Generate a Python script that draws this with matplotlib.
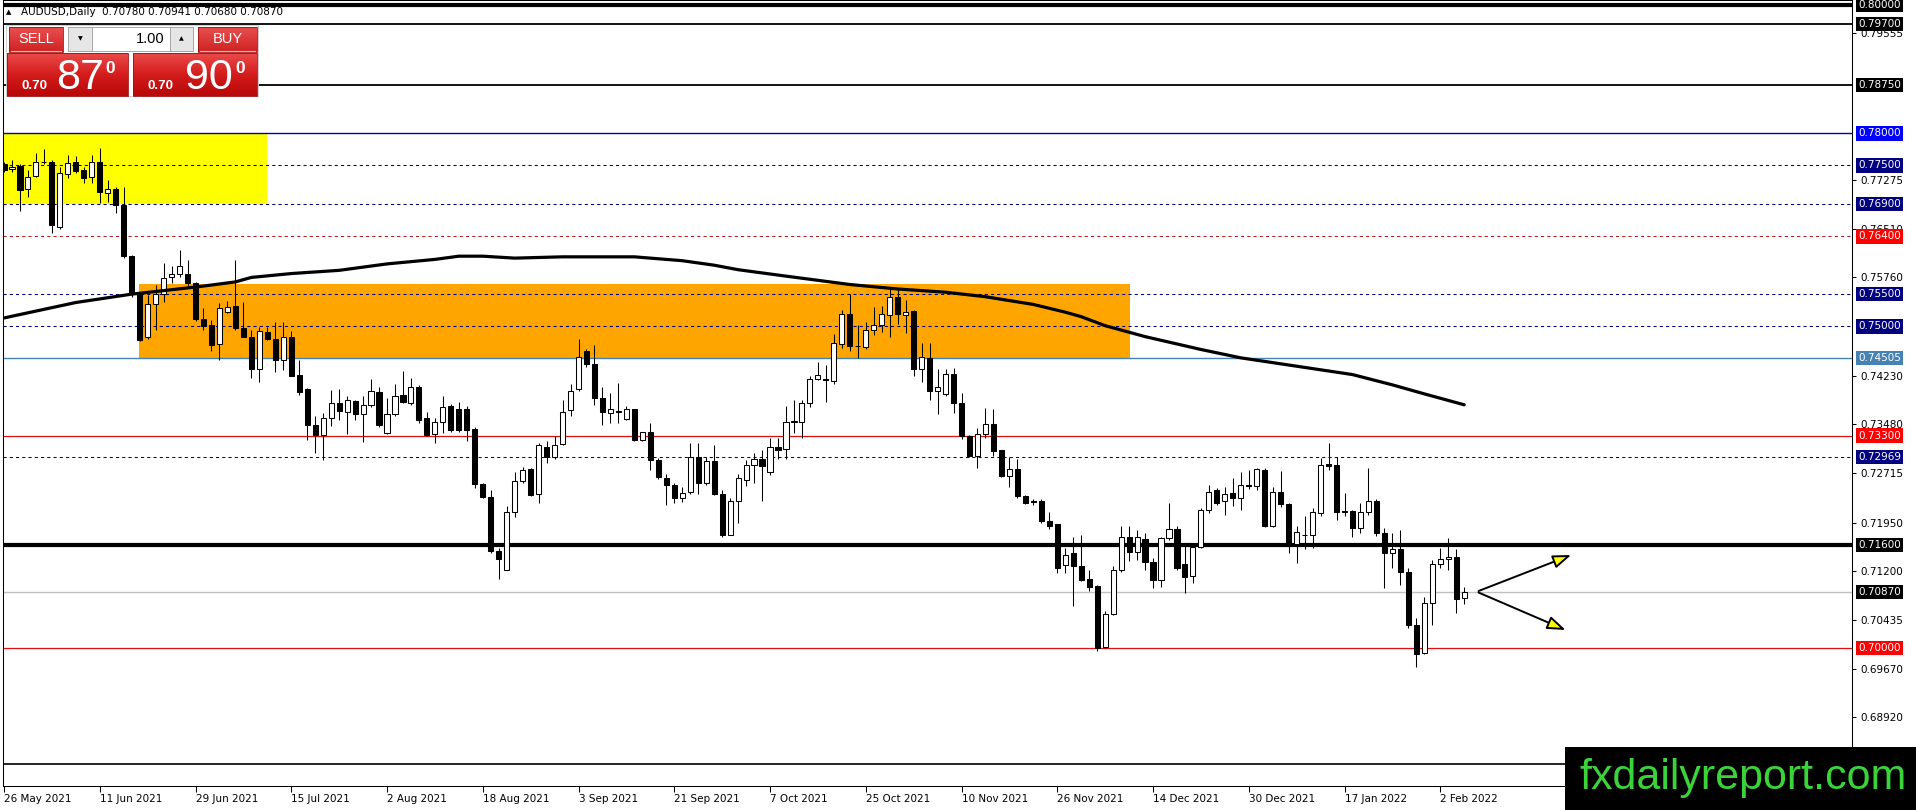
import numpy as np
import matplotlib
matplotlib.use('Agg')
import matplotlib.pyplot as plt
from matplotlib.patches import Rectangle
from matplotlib.colors import LinearSegmentedColormap
import matplotlib.transforms as mtransforms

plt.rcParams['font.family'] = ['DejaVu Sans']

# ---------------- data ----------------
date_labels = ['26 May 2021', '11 Jun 2021', '29 Jun 2021', '15 Jul 2021', '2 Aug 2021',
               '18 Aug 2021', '3 Sep 2021', '21 Sep 2021', '7 Oct 2021', '25 Oct 2021',
               '10 Nov 2021', '26 Nov 2021', '14 Dec 2021', '30 Dec 2021', '17 Jan 2022',
               '2 Feb 2022']
label_bars = [0, 12, 24, 36, 48, 60, 72, 84, 96, 108, 120, 132, 144, 156, 168, 180]

opens = [.7753, .7744, .7749, .7713, .7734, .7755, .7755, .7655, .7737, .7755,
         .7743, .7732, .7755, .7707, .7713, .7688, .7610, .7551, .7484, .7535,
         .7551, .7576, .7581, .7581, .7568, .7512, .7502, .7472, .7523, .7531,
         .7497, .7484, .7433, .7491, .7481, .7448, .7484, .7424, .7402, .7346,
         .7331, .7358, .7381, .7367, .7384, .7363, .7378, .7398, .7334, .7363,
         .7393, .7381, .7406, .7358, .7332, .7352, .7376, .7372, .7372, .7340,
         .7255, .7234, .7150, .7122, .7212, .7259, .7278, .7239, .7313, .7297,
         .7317, .7370, .7402, .7462, .7441, .7388, .7366, .7369, .7356, .7371,
         .7323, .7335, .7292, .7264, .7254, .7233, .7243, .7297, .7256, .7290,
         .7239, .7176, .7229, .7261, .7284, .7294, .7273, .7313, .7309, .7351,
         .7351, .7381, .7418, .7418, .7415, .7473, .7519, .7470, .7468, .7495,
         .7502, .7518, .7545, .7517, .7524, .7434, .7451, .7400, .7395, .7426,
         .7381, .7330, .7298, .7333, .7348, .7307, .7268, .7278, .7237, .7228,
         .7228, .7197, .7192, .7129, .7147, .7128, .7107, .7097, .7002, .7053,
         .7121, .7172, .7149, .7169, .7133, .7106, .7171, .7185, .7131, .7112,
         .7157, .7215, .7245, .7229, .7241, .7233, .7254, .7252, .7277, .7189,
         .7242, .7224, .7162, .7176, .7176, .7210, .7286, .7285, .7213, .7213,
         .7186, .7212, .7228, .7179, .7147, .7154, .7118, .7035, .6992, .7070,
         .7131, .7138, .7141, .70780]
highs = [.7756, .7758, .7753, .7743, .7770, .7775, .7758, .7747, .7767, .7765,
         .7748, .7766, .7777, .7727, .7717, .7717, .7611, .7554, .7549, .7564,
         .7599, .7593, .7619, .7603, .7569, .7529, .7510, .7536, .7540, .7603,
         .7538, .7494, .7499, .7499, .7506, .7507, .7492, .7448, .7404, .7360,
         .7365, .7401, .7402, .7392, .7385, .7391, .7418, .7406, .7388, .7411,
         .7430, .7419, .7409, .7367, .7357, .7391, .7379, .7383, .7376, .7344,
         .7257, .7246, .7155, .7220, .7274, .7282, .7279, .7319, .7321, .7330,
         .7386, .7411, .7480, .7464, .7471, .7406, .7396, .7412, .7376, .7372,
         .7336, .7350, .7295, .7271, .7256, .7251, .7318, .7318, .7297, .7316,
         .7246, .7233, .7271, .7292, .7303, .7308, .7326, .7326, .7376, .7386,
         .7385, .7422, .7444, .7440, .7488, .7525, .7551, .7502, .7506, .7530,
         .7531, .7559, .7558, .7541, .7526, .7474, .7474, .7433, .7434, .7435,
         .7396, .7331, .7342, .7373, .7371, .7308, .7297, .7294, .7238, .7232,
         .7231, .7212, .7193, .7155, .7173, .7175, .7122, .7098, .7057, .7128,
         .7189, .7189, .7184, .7178, .7140, .7173, .7226, .7190, .7161, .7161,
         .7218, .7254, .7249, .7250, .7264, .7273, .7277, .7280, .7280, .7251,
         .7275, .7225, .7190, .7205, .7218, .7295, .7318, .7297, .7241, .7215,
         .7225, .7280, .7232, .7186, .7179, .7183, .7124, .7047, .7079, .7137,
         .7155, .7171, .7154, .70941]
lows = [.7740, .7740, .7679, .7701, .7732, .7752, .7645, .7651, .7730, .7738,
        .7722, .7722, .7691, .7694, .7676, .7606, .7546, .7477, .7481, .7495,
        .7538, .7567, .7577, .7562, .7509, .7495, .7462, .7448, .7520, .7495,
        .7483, .7419, .7413, .7479, .7429, .7432, .7422, .7393, .7323, .7303,
        .7292, .7345, .7355, .7333, .7354, .7320, .7374, .7344, .7333, .7360,
        .7381, .7378, .7349, .7330, .7318, .7334, .7336, .7336, .7321, .7248,
        .7233, .7147, .7108, .7121, .7203, .7256, .7237, .7225, .7288, .7294,
        .7315, .7360, .7400, .7436, .7378, .7347, .7350, .7349, .7354, .7321,
        .7321, .7277, .7262, .7222, .7225, .7227, .7239, .7240, .7254, .7238,
        .7173, .7175, .7194, .7252, .7256, .7228, .7269, .7294, .7294, .7334,
        .7326, .7375, .7416, .7382, .7411, .7466, .7461, .7451, .7465, .7487,
        .7491, .7483, .7504, .7489, .7422, .7414, .7386, .7364, .7392, .7365,
        .7325, .7297, .7280, .7326, .7298, .7266, .7251, .7233, .7224, .7223,
        .7195, .7185, .7117, .7117, .7065, .7104, .7088, .6995, .7000, .7051,
        .7118, .7135, .7137, .7122, .7093, .7095, .7168, .7122, .7085, .7101,
        .7155, .7210, .7223, .7207, .7221, .7215, .7247, .7245, .7188, .7188,
        .7219, .7148, .7132, .7154, .7155, .7205, .7277, .7199, .7205, .7172,
        .7179, .7207, .7174, .7093, .7124, .7098, .7031, .6970, .6990, .7035,
        .7124, .7122, .7054, .70680]
closes = [.7743, .7748, .7712, .7732, .7755, .7756, .7658, .7739, .7754, .7742,
          .7731, .7756, .7708, .7713, .7688, .7609, .7550, .7479, .7535, .7551,
          .7575, .7582, .7594, .7568, .7511, .7500, .7471, .7529, .7530, .7497,
          .7484, .7433, .7493, .7481, .7448, .7484, .7423, .7398, .7346, .7331,
          .7358, .7381, .7368, .7385, .7364, .7377, .7399, .7346, .7363, .7392,
          .7382, .7405, .7355, .7331, .7352, .7375, .7339, .7339, .7339, .7255,
          .7234, .7150, .7138, .7212, .7259, .7277, .7238, .7315, .7297, .7316,
          .7367, .7400, .7453, .7441, .7388, .7367, .7371, .7367, .7371, .7323,
          .7335, .7292, .7266, .7253, .7233, .7241, .7297, .7257, .7290, .7239,
          .7176, .7229, .7265, .7284, .7293, .7283, .7313, .7308, .7351, .7353,
          .7381, .7418, .7425, .7416, .7474, .7519, .7469, .7469, .7494, .7502,
          .7519, .7545, .7519, .7523, .7434, .7452, .7400, .7406, .7426, .7381,
          .7330, .7298, .7333, .7348, .7306, .7268, .7278, .7236, .7226, .7227,
          .7197, .7189, .7124, .7145, .7128, .7106, .7095, .7000, .7053, .7122,
          .7172, .7149, .7172, .7133, .7106, .7171, .7185, .7124, .7111, .7157,
          .7215, .7243, .7225, .7240, .7233, .7254, .7252, .7278, .7189, .7242,
          .7224, .7162, .7181, .7175, .7211, .7285, .7283, .7212, .7212, .7186,
          .7212, .7228, .7179, .7147, .7154, .7118, .7035, .6991, .7070, .7131,
          .7138, .7141, .7076, .70870]

# moving average (read at selected bars)
ma_bars = [0, 9, 16, 24, 29, 31, 36, 42, 48, 54, 57, 60, 64, 70, 79, 85, 89, 92,
           98, 106, 112, 118, 123, 129, 133, 135, 138, 143, 150, 155, 162, 169, 174,
           178, 183]
ma_vals = [.7513, .7537, .7550, .7561, .7569, .7576, .7582, .7587, .7597, .7604,
           .7609, .7609, .7606, .7608, .7608, .7602, .7595, .7588, .7578, .7565,
           .7558, .7553, .7546, .7534, .7522, .7515, .7501, .7484, .7464, .7451,
           .7438, .7425, .7409, .7395, .7378]

# horizontal levels
level_vals = [0.80, 0.797, 0.7875, 0.78, 0.775, 0.769, 0.764, 0.755, 0.75,
              0.74505, 0.733, 0.72969, 0.716, 0.7087, 0.70, 0.682]
level_cols = ['black', 'black', 'black', '#0000b4', '#000080', '#000080', '#b22222',
              '#000080', '#000080', '#4682b4', '#e01010', '#000080', 'black',
              '#c0c0c0', '#e01010', 'black']
level_lw = [3.0, 1.3, 1.3, 1.0, 0.75, 0.75, 0.75, 0.75, 0.75, 1.0, 0.9, 0.75, 3.0,
            1.0, 0.9, 1.2]
level_dashed = [False, False, False, False, True, True, True, True, True, False,
                False, True, False, False, False, False]

# price labels of the levels
tag_vals = [0.80, 0.797, 0.7875, 0.78, 0.775, 0.769, 0.764, 0.755, 0.75, 0.74505,
            0.733, 0.72969, 0.716, 0.7087, 0.70]
tag_text = ['0.80000', '0.79700', '0.78750', '0.78000', '0.77500', '0.76900', '0.76400',
            '0.75500', '0.75000', '0.74505', '0.73300', '0.72969', '0.71600', '0.70870',
            '0.70000']
tag_cols = ['black', 'black', 'black', '#0000ff', '#000080', '#000080', '#ff0000',
            '#000080', '#000080', '#4682b4', '#ff0000', '#000080', 'black', 'black',
            '#ff0000']

plain_ticks = [0.79555, 0.77275, 0.76510, 0.75760, 0.74230, 0.73480, 0.72715,
               0.71950, 0.71200, 0.70435, 0.69670, 0.68920]

# zones
zone_x0 = [-0.5, 16.9]
zone_x1 = [32.9, 141.1]
zone_lo = [0.769, 0.74505]
zone_hi = [0.780, 0.7565]
zone_col = ['#ffff00', '#ffa500']

# arrows
arr_x0 = [184.8, 184.8]
arr_y0 = [0.70886, 0.70862]
arr_x1 = [196.4, 195.7]
arr_y1 = [0.71445, 0.70280]

# ---------------- figure ----------------
W, H = 1916, 810
fig = plt.figure(figsize=(W / 100, H / 100), dpi=100, facecolor='white')
ax = fig.add_axes([3 / W, 24 / H, (1852 - 3) / W, (810 - 24) / H])
ax.set_xlim(-0.125, 231.6)
ax.set_ylim(0.67855, 0.80072)
ax.set_facecolor('white')

for x0, x1, lo, hi, col in zip(zone_x0, zone_x1, zone_lo, zone_hi, zone_col):
    ax.add_patch(Rectangle((x0, lo), x1 - x0, hi - lo, facecolor=col, edgecolor='none', zorder=1))

for v, col, lw, d in zip(level_vals, level_cols, level_lw, level_dashed):
    ax.axhline(v, color=col, lw=lw, linestyle=(0, (3, 3)) if d else '-', zorder=2)

o = np.array(opens); h = np.array(highs); l = np.array(lows); c = np.array(closes)
idx = np.arange(len(o))
up = c >= o
ax.vlines(idx, l, h, color='black', lw=0.75, zorder=3)
body_bot = np.minimum(o, c)
body_h = np.maximum(np.abs(c - o), 0.00003)
ax.bar(idx, body_h, bottom=body_bot, width=0.64,
       color=np.where(up, 'white', 'black'), edgecolor='black', linewidth=0.75, zorder=4)

ax.plot(ma_bars, ma_vals, color='black', lw=2.3, zorder=5, solid_capstyle='round',
        solid_joinstyle='round')

for sx, sy, ex, ey in zip(arr_x0, arr_y0, arr_x1, arr_y1):
    ax.annotate('', xy=(ex, ey), xytext=(sx, sy),
                arrowprops=dict(arrowstyle='-|>,head_length=0.55,head_width=0.2',
                                fc='#ffff00', ec='black', lw=1.4, mutation_scale=20,
                                shrinkA=0, shrinkB=0), zorder=6)

# axes styling
for s in ax.spines.values():
    s.set_linewidth(0.75)
    s.set_color('black')
ax.yaxis.tick_right()
ax.set_yticks(plain_ticks)
ax.set_yticklabels([f'{v:.5f}' for v in plain_ticks])
ax.tick_params(axis='y', direction='out', length=3, width=0.75, pad=3, labelsize=7.5)
ax.set_xticks(label_bars)
ax.set_xticklabels(date_labels, ha='left')
ax.tick_params(axis='x', direction='out', length=4, width=0.75, pad=2, labelsize=7.5)

trans = mtransforms.blended_transform_factory(ax.transAxes, ax.transData)
xlab = 1 + (1858 - 1852) / 1849
for v, t, fc in zip(tag_vals, tag_text, tag_cols):
    ax.text(xlab, v, t, transform=trans, ha='left', va='center', fontsize=7.5,
            color='white', clip_on=False, zorder=10,
            bbox=dict(boxstyle='square,pad=0.22', fc=fc, ec='none'))

# ---------------- overlay (panel, banner) ----------------
ov = fig.add_axes([0, 0, 1, 1], zorder=20)
ov.set_xlim(0, W)
ov.set_ylim(H, 0)
ov.axis('off')

red_cmap = LinearSegmentedColormap.from_list('r', ['#ea4a4a', '#d41c1c', '#b80808'])
btn_cmap = LinearSegmentedColormap.from_list('b', ['#e85050', '#cf2222'])
grad = np.linspace(0, 1, 64).reshape(-1, 1)

def grad_box(x0, y0, w, h, cmap):
    ov.imshow(grad, extent=(x0, x0 + w, y0 + h, y0), cmap=cmap, aspect='auto',
              origin='upper', zorder=21, interpolation='bilinear')
    ov.add_patch(Rectangle((x0, y0), w, h, fill=False, ec='#a01010', lw=0.6, zorder=22))

# header
ov.text(6, 12, '\u25b2', fontsize=5, va='center', ha='left', zorder=25)
ov.text(21, 12, 'AUDUSD,Daily  0.70780 0.70941 0.70680 0.70870', fontsize=7.5,
        va='center', ha='left', zorder=25)

# panel background
ov.add_patch(Rectangle((6, 25), 252, 71, fc='white', ec='#c8c8c8', lw=0.6, zorder=20.5))
# SELL / BUY buttons
grad_box(9, 27, 54, 25, btn_cmap)
grad_box(198, 27, 59, 25, btn_cmap)
ov.plot([11, 61], [51, 51], color='#f4b0b0', lw=0.8, zorder=23)
ov.plot([200, 255], [51, 51], color='#f4b0b0', lw=0.8, zorder=23)
ov.text(36, 39, 'SELL', color='white', fontsize=10.5, ha='center', va='center', zorder=25,
        family=['Liberation Sans'])
ov.text(227.5, 39, 'BUY', color='white', fontsize=10.5, ha='center', va='center', zorder=25,
        family=['Liberation Sans'])
# spin control
ov.add_patch(Rectangle((68, 27), 125, 24, fc='white', ec='#a8a8a8', lw=0.7, zorder=21))
ov.add_patch(Rectangle((68, 27), 24, 24, fc='#e6e6e6', ec='#a8a8a8', lw=0.7, zorder=22))
ov.add_patch(Rectangle((170, 27), 23, 24, fc='#e6e6e6', ec='#a8a8a8', lw=0.7, zorder=22))
ov.text(80, 39, '\u25bc', fontsize=4.5, ha='center', va='center', zorder=25)
ov.text(181.5, 39, '\u25b2', fontsize=4.5, ha='center', va='center', zorder=25)
ov.text(165, 39, '1.00', fontsize=10.5, ha='right', va='center', zorder=25,
        family=['Liberation Sans'])
# big price boxes
grad_box(7, 53, 121, 43, red_cmap)
grad_box(133, 53, 124, 43, red_cmap)
ov.text(22, 89, '0.70', color='white', fontsize=9.5, fontweight='bold', ha='left',
        va='baseline', zorder=25, family=['Liberation Sans'])
ov.text(56, 89, '87', color='white', fontsize=31, ha='left', va='baseline', zorder=25,
        family=['Liberation Sans'])
ov.text(105, 73, '0', color='white', fontsize=12.5, fontweight='bold', ha='left',
        va='baseline', zorder=25, family=['Liberation Sans'])
ov.text(148, 89, '0.70', color='white', fontsize=9.5, fontweight='bold', ha='left',
        va='baseline', zorder=25, family=['Liberation Sans'])
ov.text(185, 89, '90', color='white', fontsize=31, ha='left', va='baseline', zorder=25,
        family=['Liberation Sans'])
ov.text(235, 73, '0', color='white', fontsize=12.5, fontweight='bold', ha='left',
        va='baseline', zorder=25, family=['Liberation Sans'])

# banner
ov.add_patch(Rectangle((1565, 747), W - 1565, H - 747, fc='black', ec='none', zorder=21))
ov.text(1743, 789, 'fxdailyreport.com', color='#3ad43a', fontsize=31, ha='center',
        va='baseline', zorder=25, family=['Liberation Sans'])

ov.set_xlim(0, W)
ov.set_ylim(H, 0)

fig.savefig('out.png', dpi=100, facecolor='white')
